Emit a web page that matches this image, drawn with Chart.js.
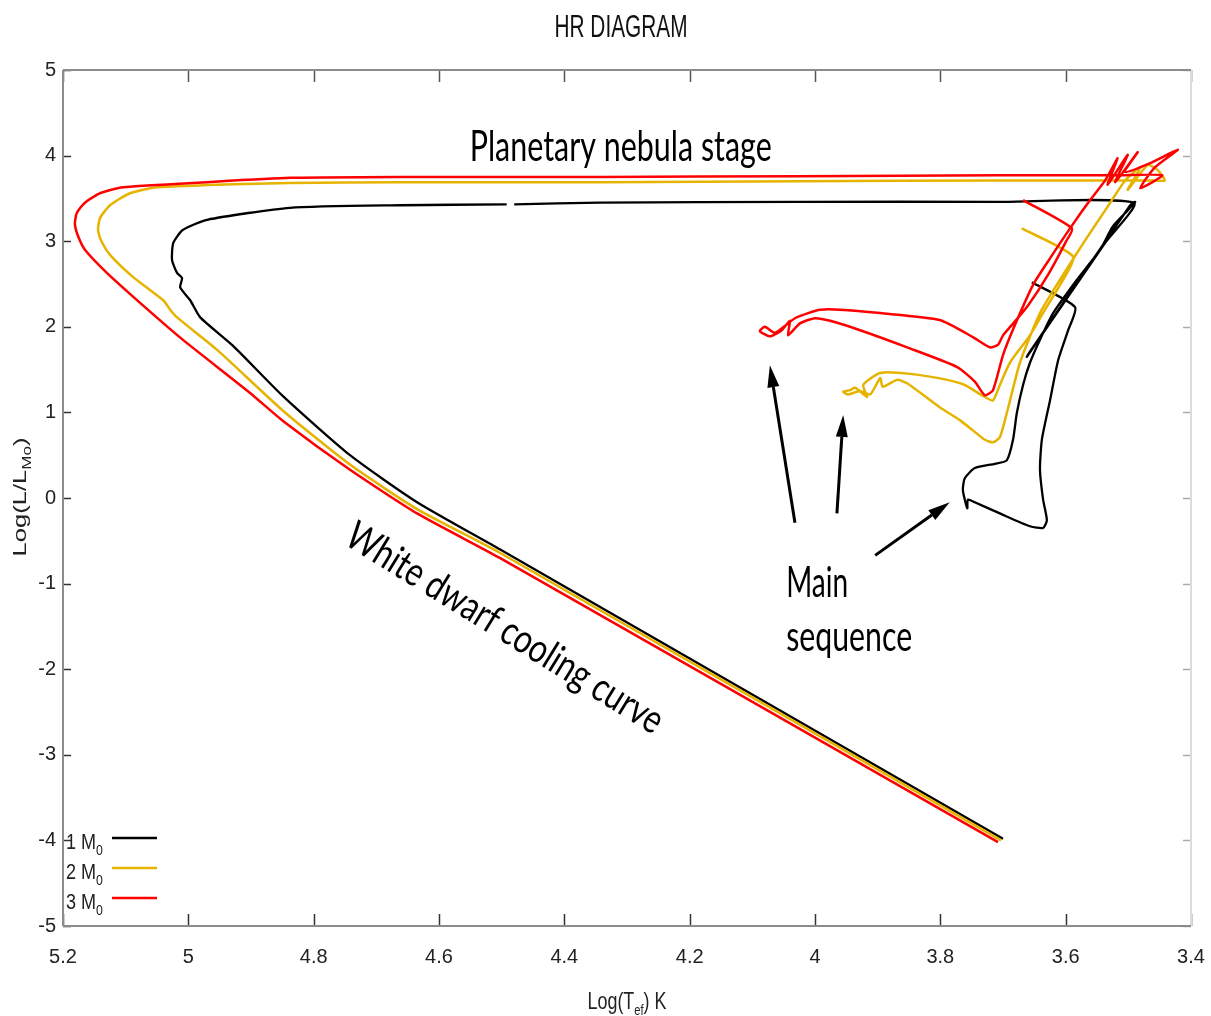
<!doctype html>
<html lang="en">
<head>
<meta charset="UTF-8">
<title>HR DIAGRAM</title>
<script src="https://cdn.jsdelivr.net/npm/chart.js@4.4.0/dist/chart.umd.min.js"></script>
<style>
  html, body { margin: 0; padding: 0; background: #fff; }
  #holder { width: 1211px; height: 1016px; }
</style>
</head>
<body>
<div id="holder"><canvas id="hr" width="1211" height="1016"></canvas></div>
<script>
// tracks: log Teff (K) and log L/Lsun
var m1LogT = [3.654, 3.585, 3.596, 3.612, 3.625, 3.638, 3.641, 3.636, 3.630, 3.636, 3.657, 3.705, 3.745, 3.756, 3.757,
  3.764, 3.761, 3.745, 3.713, 3.694, 3.684, 3.678, 3.668, 3.657, 3.641, 3.620, 3.582, 3.545, 3.525, 3.501, 3.489,
  3.497, 3.657, 3.662, 3.537, 3.491, 3.705, 4.024, 4.343, 4.480, null, 4.492, 4.662, 4.838, 4.970, 5.009, 5.024,
  5.026, 5.018, 5.010, 5.013, 4.997, 4.981, 4.929, 4.849, 4.742, 4.635, 4.503, 3.700];
var m1LogL = [2.52, 2.23, 1.96, 1.61, 1.14, 0.68, 0.33, -0.02, -0.26, -0.35, -0.33, -0.18, -0.05, -0.02, -0.12,
  0.09, 0.23, 0.35, 0.40, 0.44, 0.68, 0.99, 1.32, 1.58, 1.85, 2.16, 2.55, 2.90, 3.17, 3.36, 3.46,
  3.42, 1.71, 1.65, 2.98, 3.45, 3.46, 3.46, 3.45, 3.43, null, 3.43, 3.42, 3.39, 3.25, 3.13, 2.98,
  2.78, 2.63, 2.57, 2.46, 2.31, 2.11, 1.78, 1.19, 0.50, -0.05, -0.60, -3.98];

var m2LogT = [3.670, 3.588, 3.609, 3.633, 3.657, 3.689, 3.705, 3.716, 3.729, 3.761, 3.789, 3.848, 3.885, 3.900, 3.923,
  3.917, 3.936, 3.944, 3.955, 3.947, 3.928, 3.912, 3.896, 3.892, 3.869, 3.853, 3.801, 3.769, 3.748, 3.729, 3.716,
  3.705, 3.694, 3.673, 3.641, 3.609, 3.569, 3.537, 3.505, 3.481, 3.501, 3.469, 3.453, 3.442, 3.466, 3.705, 4.024,
  4.343, 4.662, 4.838, 5.050, 5.093, 5.125, 5.141, 5.144, 5.138, 5.125, 5.088, 5.040, 5.029, 5.018, 4.954, 4.849,
  4.742, 4.635, 4.503, 3.703];
var m2LogL = [3.15, 2.82, 2.49, 2.20, 1.90, 1.58, 1.32, 1.14, 1.18, 1.32, 1.38, 1.45, 1.47, 1.45, 1.32,
  1.18, 1.29, 1.26, 1.24, 1.21, 1.25, 1.21, 1.40, 1.30, 1.38, 1.34, 1.06, 0.91, 0.79, 0.68, 0.65,
  0.71, 0.99, 1.58, 2.16, 2.55, 3.01, 3.36, 3.71, 3.86, 3.60, 3.89, 3.83, 3.71, 3.71, 3.71, 3.70,
  3.69, 3.69, 3.68, 3.63, 3.56, 3.42, 3.27, 3.13, 2.99, 2.84, 2.58, 2.31, 2.20, 2.11, 1.73, 1.02,
  0.39, -0.13, -0.64, -4.00];

var m3LogT = [3.668, 3.590, 3.600, 3.628, 3.660, 3.686, 3.700, 3.708, 3.721, 3.748, 3.801, 3.896, 3.960, 3.992, 4.011,
  4.032, 4.048, 4.064, 4.080, 4.088, 4.072, 4.053, 4.040, 4.043, 4.024, 4.000, 3.976, 3.928, 3.853, 3.773, 3.745,
  3.729, 3.716, 3.700, 3.681, 3.652, 3.625, 3.593, 3.561, 3.537, 3.517, 3.533, 3.501, 3.521, 3.485, 3.505, 3.466,
  3.421, 3.458, 3.481, 3.446, 3.513, 3.705, 4.024, 4.343, 4.662, 4.838, 4.970, 5.104, 5.141, 5.165, 5.178, 5.181,
  5.176, 5.165, 5.130, 5.077, 5.009, 4.902, 4.849, 4.742, 4.635, 4.503, 3.708];
var m3LogL = [3.48, 3.15, 2.99, 2.61, 2.25, 2.02, 1.90, 1.79, 1.76, 1.88, 2.08, 2.16, 2.20, 2.20, 2.16,
  2.10, 2.01, 1.93, 2.00, 1.95, 1.89, 1.96, 2.07, 1.90, 2.04, 2.10, 2.07, 1.96, 1.76, 1.53, 1.36,
  1.20, 1.26, 1.67, 2.02, 2.49, 2.80, 3.15, 3.48, 3.71, 3.97, 3.66, 4.01, 3.69, 4.04, 3.81, 3.91,
  4.07, 3.86, 3.62, 3.77, 3.77, 3.77, 3.76, 3.75, 3.75, 3.74, 3.69, 3.63, 3.56, 3.45, 3.33, 3.20,
  3.06, 2.90, 2.63, 2.28, 1.85, 1.23, 0.90, 0.33, -0.18, -0.70, -4.02];

var masses = ['1', '2', '3'];
var xTicks = [3.4, 3.6, 3.8, 4.0, 4.2, 4.4, 4.6, 4.8, 5.0, 5.2];
var xTickLabels = ['3.4', '3.6', '3.8', '4', '4.2', '4.4', '4.6', '4.8', '5', '5.2'];
var yTicks = [-5, -4, -3, -2, -1, 0, 1, 2, 3, 4, 5];
var yTickLabels = ['-5', '-4', '-3', '-2', '-1', '0', '1', '2', '3', '4', '5'];

// annotations (data coordinates)
var notes = ['Planetary nebula stage', 'White dwarf cooling curve', 'Main', 'sequence'];
var arrowTails = [[4.032, -0.29], [3.965, -0.18], [3.904, -0.67]];
var arrowHeads = [[4.072, 1.55], [3.955, 0.97], [3.785, -0.05]];

var narrow = '"Liberation Sans Narrow", "Liberation Sans", sans-serif';
var sans = '"Liberation Sans", Arial, sans-serif';
var hand = 'Lato, "Noto Sans", sans-serif';

function pts(xs, ys) {
	var out = [];
	for (var i = 0; i < xs.length; i++) out.push({x: xs[i], y: ys[i]});
	return out;
}

function line(c, x0, y0, x1, y1) {
	c.beginPath(); c.moveTo(x0, y0); c.lineTo(x1, y1); c.stroke();
}

// draws text pieces (text, font, dy) squeezed to a width or by a factor
function drawParts(c, parts, x, y, o) {
	var nat = 0;
	parts.forEach(function(p) { c.font = p[1]; nat += c.measureText(p[0]).width; });
	var k = o.w ? o.w / nat : (o.sx || 1);
	c.save();
	c.translate(x, y);
	if (o.rot) c.rotate(o.rot);
	c.scale(k, 1);
	c.fillStyle = o.color || '#000';
	c.textAlign = 'left';
	c.textBaseline = o.base || 'alphabetic';
	var cx = o.align == 'center' ? -nat / 2 : 0;
	parts.forEach(function(p) {
		c.font = p[1];
		c.fillText(p[0], cx, p[2] || 0);
		cx += c.measureText(p[0]).width;
	});
	c.restore();
}

function arrow(c, x0, y0, x1, y1) {
	var a = Math.atan2(y1 - y0, x1 - x0), L = 22, W = 6;
	var bx = x1 - L * Math.cos(a), by = y1 - L * Math.sin(a);
	line(c, x0, y0, bx, by);
	c.beginPath();
	c.moveTo(x1, y1);
	c.lineTo(bx + W * Math.sin(a), by - W * Math.cos(a));
	c.lineTo(bx - W * Math.sin(a), by + W * Math.cos(a));
	c.closePath();
	c.fill();
}

var deco = {
	id: 'deco',
	beforeDraw: function(chart) {
		var c = chart.ctx;
		c.save(); c.fillStyle = '#fff'; c.fillRect(0, 0, chart.width, chart.height); c.restore();
	},
	afterDraw: function(chart) {
		var c = chart.ctx, a = chart.chartArea, sx = chart.scales.x, sy = chart.scales.y;
		c.save();
		c.lineWidth = 1.5;
		sx.ticks.forEach(function(t) {
			var px = Math.round(sx.getPixelForValue(t.value)) + 0.5;
			c.strokeStyle = '#333'; line(c, px, a.bottom, px, a.bottom - 12);
			c.strokeStyle = '#555'; line(c, px, a.top, px, a.top + 12);
		});
		sy.ticks.forEach(function(t) {
			var py = Math.round(sy.getPixelForValue(t.value)) + 0.5;
			c.strokeStyle = '#333'; line(c, a.left, py, a.left + 8, py);
			c.strokeStyle = '#aaa'; line(c, a.right, py, a.right - 8, py);
		});
		// frame
		c.lineWidth = 2;
		c.strokeStyle = '#dcdcdc'; line(c, a.right, a.top, a.right, a.bottom);
		c.strokeStyle = '#8c8c8c';
		line(c, a.left, a.top, a.right, a.top);
		line(c, a.left, a.top, a.left, a.bottom);
		line(c, a.left, a.bottom, a.right, a.bottom);

		// legend, bottom left inside the frame
		chart.data.datasets.forEach(function(ds, i) {
			var ly = a.bottom - 88 + i * 30;
			c.strokeStyle = ds.borderColor; c.lineWidth = 2.5;
			line(c, a.left + 49, ly, a.left + 94, ly);
			drawParts(c, [[ds.label + ' M', '22px ' + sans, 0], ['0', '15px ' + sans, 6]],
				a.left + 3, ly + 11, {sx: 0.82, color: '#222'});
		});

		// titles
		drawParts(c, [['HR DIAGRAM', '32px ' + sans, 0]], (a.left + a.right) / 2 - 6, 37,
			{w: 133, align: 'center', color: '#111'});
		drawParts(c, [['Log(T', '24px ' + sans, 0], ['ef', '15px ' + sans, 6], [') K', '24px ' + sans, 0]],
			(a.left + a.right) / 2, 1009, {w: 79, align: 'center', color: '#222'});
		drawParts(c, [['Log(L/L', '18px ' + sans, 0], ['Mo', '12px ' + sans, 5], [')', '18px ' + sans, 0]],
			26, 497, {w: 119, align: 'center', rot: -Math.PI / 2, color: '#222'});

		// annotations
		c.fillStyle = '#000'; c.strokeStyle = '#000'; c.lineWidth = 3;
		for (var i = 0; i < arrowTails.length; i++) {
			arrow(c, sx.getPixelForValue(arrowTails[i][0]), sy.getPixelForValue(arrowTails[i][1]),
				sx.getPixelForValue(arrowHeads[i][0]), sy.getPixelForValue(arrowHeads[i][1]));
		}
		drawParts(c, [[notes[0], '42px ' + hand, 0]], sx.getPixelForValue(4.310), sy.getPixelForValue(3.94),
			{w: 302, align: 'center'});
		drawParts(c, [[notes[1], '40px ' + hand, 0]], sx.getPixelForValue(4.495), sy.getPixelForValue(-1.52),
			{w: 365, align: 'center', base: 'middle', rot: 31.7 * Math.PI / 180});
		drawParts(c, [[notes[2], '42px ' + hand, 0]], sx.getPixelForValue(4.046), sy.getPixelForValue(-1.16),
			{w: 62});
		drawParts(c, [[notes[3], '42px ' + hand, 0]], sx.getPixelForValue(4.046), sy.getPixelForValue(-1.79),
			{w: 126});
		c.restore();
	}
};

var config = {
	type: 'scatter',
	data: {
		datasets: [
			{label: masses[0], data: pts(m1LogT, m1LogL), borderColor: '#000000', borderWidth: 2.3, order: 3},
			{label: masses[1], data: pts(m2LogT, m2LogL), borderColor: '#e6b400', borderWidth: 2.5, order: 2},
			{label: masses[2], data: pts(m3LogT, m3LogL), borderColor: '#ff0000', borderWidth: 2.5, order: 1}
		]
	},
	options: {
		responsive: false,
		devicePixelRatio: 1,
		animation: false,
		showLine: true,
		spanGaps: false,
		elements: {point: {radius: 0, hoverRadius: 0}, line: {tension: 0.2, fill: false}},
		layout: {padding: {top: 70, right: 20, left: 0, bottom: 0}},
		plugins: {legend: {display: false}, title: {display: false}, tooltip: {enabled: false}},
		scales: {
			x: {
				type: 'linear', reverse: true, min: 3.4, max: 5.2,
				afterBuildTicks: function(s) { s.ticks = xTicks.map(function(v) { return {value: v}; }); },
				afterFit: function(s) { s.height = 90; },
				grid: {display: false, drawTicks: false},
				border: {display: false},
				ticks: {
					padding: 19, color: '#222', maxRotation: 0, autoSkip: false,
					font: {family: narrow, size: 20},
					callback: function(v, i) { return xTickLabels[i]; }
				}
			},
			y: {
				type: 'linear', min: -5, max: 5,
				afterBuildTicks: function(s) { s.ticks = yTicks.map(function(v) { return {value: v}; }); },
				afterFit: function(s) { s.width = 63; },
				grid: {display: false, drawTicks: false},
				border: {display: false},
				ticks: {
					padding: 7, color: '#222', autoSkip: false,
					font: {family: narrow, size: 20},
					callback: function(v, i) { return yTickLabels[i]; }
				}
			}
		}
	},
	plugins: [deco]
};

window.onload = function() {
	var ctx = document.getElementById('hr').getContext('2d');
	window.hrChart = new Chart(ctx, config);
};
</script>
</body>
</html>
